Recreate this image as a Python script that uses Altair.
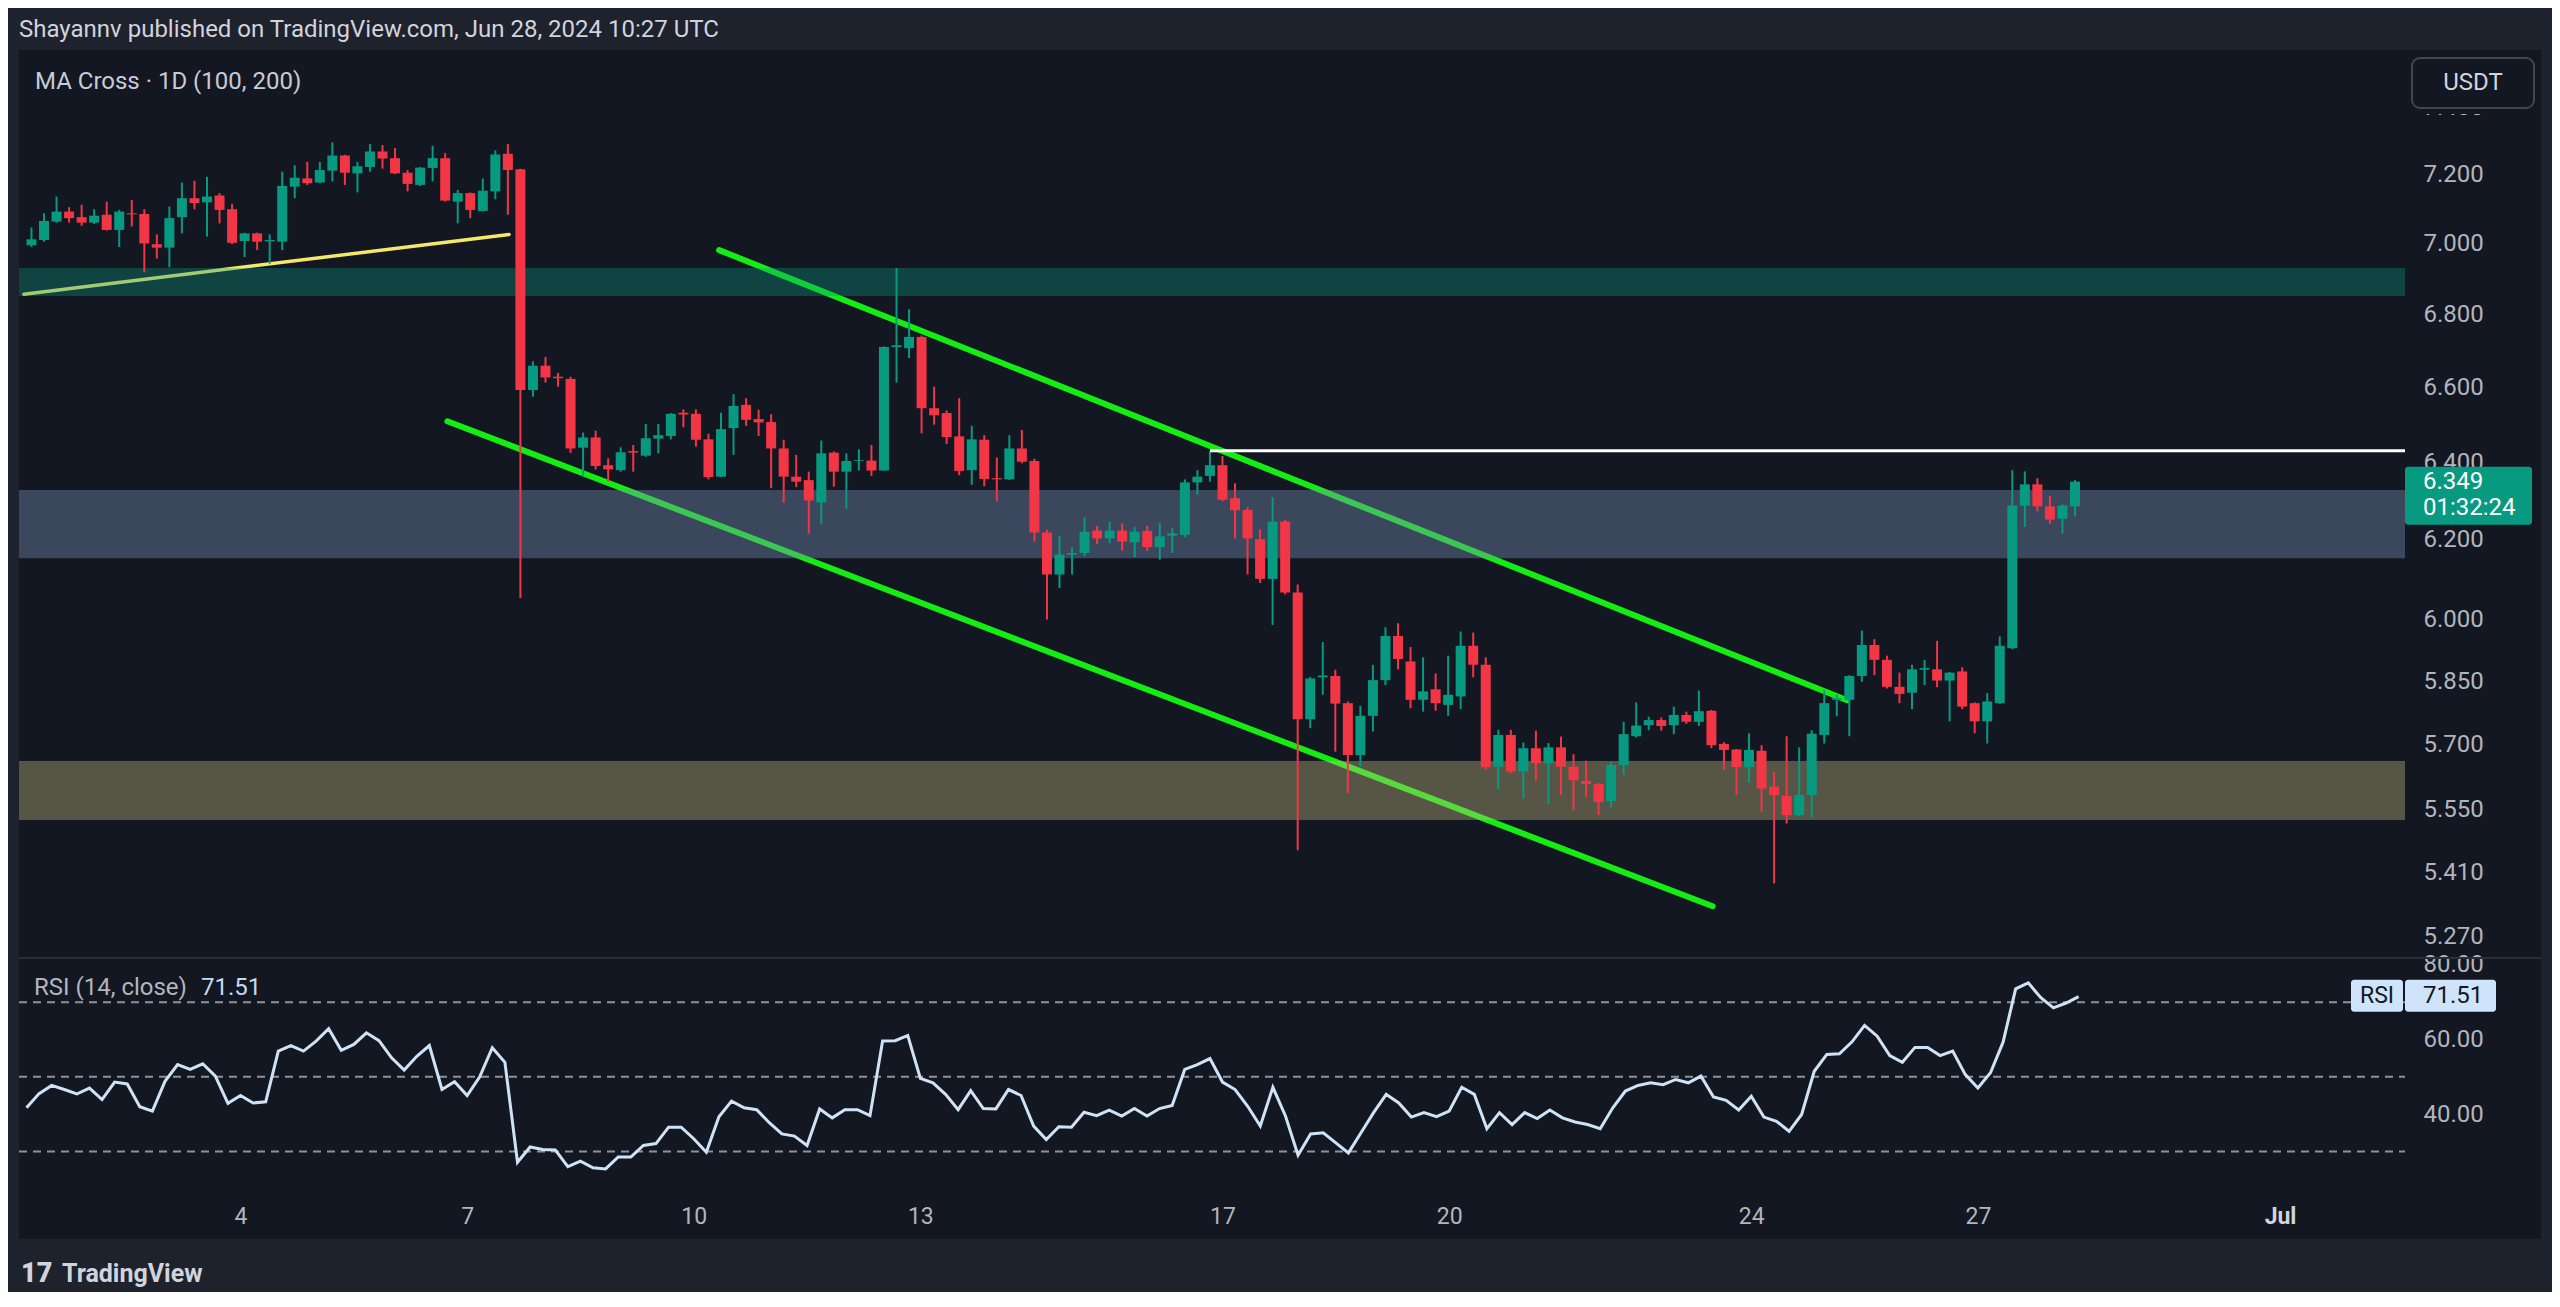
import altair as alt
import pandas as pd

# ------------------------------------------------------------------ data
opens = [6.995, 7.010, 7.063, 7.092, 7.076, 7.060, 7.083, 7.039, 7.087, 7.085,
         6.998, 6.988, 7.076, 7.131, 7.119, 7.139, 7.099, 7.007, 7.029, 7.006,
         7.005, 7.165, 7.189, 7.177, 7.212, 7.257, 7.204, 7.223, 7.269, 7.249,
         7.206, 7.170, 7.220, 7.249, 7.121, 7.146, 7.094, 7.151, 7.262, 7.216,
         6.592, 6.658, 6.628, 6.622, 6.438, 6.465, 6.392, 6.379, 6.429, 6.417,
         6.462, 6.469, 6.531, 6.528, 6.460, 6.362, 6.490, 6.552, 6.514, 6.506,
         6.436, 6.362, 6.353, 6.295, 6.425, 6.375, 6.403, 6.404, 6.378, 6.709,
         6.706, 6.737, 6.543, 6.530, 6.468, 6.379, 6.459, 6.358, 6.355, 6.436,
         6.403, 6.218, 6.112, 6.162, 6.166, 6.223, 6.203, 6.223, 6.193, 6.222,
         6.181, 6.210, 6.212, 6.347, 6.364, 6.392, 6.306, 6.276, 6.201, 6.101,
         6.246, 6.067, 5.760, 5.860, 5.863, 5.798, 5.676, 5.768, 5.853, 5.960,
         5.898, 5.806, 5.831, 5.794, 5.814, 5.936, 5.890, 5.649, 5.723, 5.638,
         5.692, 5.657, 5.694, 5.649, 5.616, 5.609, 5.570, 5.653, 5.720, 5.746,
         5.758, 5.746, 5.770, 5.754, 5.780, 5.702, 5.689, 5.648, 5.686, 5.603,
         5.582, 5.538, 5.584, 5.723, 5.806, 5.806, 5.863, 5.938, 5.902, 5.837,
         5.823, 5.878, 5.879, 5.852, 5.874, 5.798, 5.755, 5.798, 5.930, 6.287,
         6.342, 6.285, 6.253, 6.285]
highs = [7.046, 7.087, 7.136, 7.105, 7.112, 7.099, 7.121, 7.097, 7.126, 7.099,
         7.026, 7.107, 7.177, 7.182, 7.194, 7.146, 7.115, 7.031, 7.031, 7.026,
         7.209, 7.228, 7.238, 7.238, 7.296, 7.259, 7.238, 7.291, 7.288, 7.279,
         7.214, 7.223, 7.286, 7.264, 7.155, 7.148, 7.189, 7.272, 7.291, 7.218,
         6.670, 6.682, 6.638, 6.628, 6.478, 6.483, 6.410, 6.439, 6.445, 6.501,
         6.501, 6.530, 6.540, 6.540, 6.475, 6.531, 6.581, 6.570, 6.539, 6.527,
         6.459, 6.419, 6.375, 6.457, 6.428, 6.423, 6.434, 6.445, 6.711, 6.930,
         6.814, 6.741, 6.601, 6.537, 6.570, 6.496, 6.471, 6.412, 6.471, 6.485,
         6.409, 6.225, 6.209, 6.181, 6.257, 6.235, 6.246, 6.242, 6.232, 6.235,
         6.242, 6.229, 6.355, 6.379, 6.428, 6.416, 6.345, 6.283, 6.226, 6.309,
         6.250, 6.087, 5.861, 5.945, 5.878, 5.802, 5.792, 5.890, 5.981, 5.991,
         5.933, 5.908, 5.869, 5.912, 5.971, 5.968, 5.908, 5.735, 5.735, 5.705,
         5.733, 5.704, 5.719, 5.678, 5.663, 5.611, 5.661, 5.754, 5.800, 5.766,
         5.764, 5.790, 5.778, 5.828, 5.782, 5.706, 5.690, 5.727, 5.699, 5.637,
         5.720, 5.694, 5.734, 5.830, 5.818, 5.865, 5.973, 5.952, 5.912, 5.871,
         5.890, 5.902, 5.948, 5.873, 5.884, 5.800, 5.822, 5.959, 6.379, 6.376,
         6.358, 6.312, 6.290, 6.353]
lows = [6.990, 7.005, 7.060, 7.060, 7.051, 7.056, 7.037, 6.990, 7.049, 6.918,
        6.957, 6.932, 7.029, 7.099, 7.020, 7.058, 6.998, 6.961, 6.981, 6.942,
        6.981, 7.131, 7.170, 7.175, 7.180, 7.170, 7.148, 7.209, 7.218, 7.202,
        7.151, 7.167, 7.180, 7.121, 7.058, 7.073, 7.092, 7.128, 7.083, 6.053,
        6.574, 6.612, 6.601, 6.424, 6.362, 6.381, 6.349, 6.375, 6.375, 6.414,
        6.423, 6.460, 6.492, 6.441, 6.355, 6.361, 6.419, 6.496, 6.469, 6.332,
        6.295, 6.335, 6.215, 6.240, 6.336, 6.279, 6.378, 6.364, 6.378, 6.612,
        6.679, 6.476, 6.499, 6.448, 6.366, 6.341, 6.337, 6.298, 6.353, 6.397,
        6.195, 6.000, 6.078, 6.112, 6.158, 6.189, 6.191, 6.172, 6.156, 6.172,
        6.149, 6.166, 6.206, 6.315, 6.349, 6.298, 6.203, 6.112, 6.091, 5.987,
        6.062, 5.459, 5.739, 5.818, 5.684, 5.588, 5.649, 5.731, 5.841, 5.879,
        5.786, 5.778, 5.780, 5.768, 5.784, 5.860, 5.642, 5.597, 5.634, 5.576,
        5.617, 5.563, 5.584, 5.549, 5.580, 5.538, 5.555, 5.630, 5.717, 5.734,
        5.733, 5.725, 5.749, 5.744, 5.692, 5.642, 5.584, 5.612, 5.546, 5.385,
        5.519, 5.535, 5.533, 5.703, 5.767, 5.720, 5.849, 5.865, 5.833, 5.798,
        5.784, 5.841, 5.836, 5.755, 5.784, 5.727, 5.703, 5.796, 5.928, 6.232,
        6.272, 6.240, 6.215, 6.259]
closes = [7.012, 7.065, 7.092, 7.073, 7.060, 7.080, 7.039, 7.092, 7.084, 7.000,
          6.988, 7.073, 7.131, 7.117, 7.136, 7.097, 7.002, 7.029, 7.005, 7.010,
          7.167, 7.191, 7.175, 7.214, 7.257, 7.206, 7.225, 7.269, 7.248, 7.204,
          7.173, 7.221, 7.249, 7.124, 7.146, 7.097, 7.153, 7.260, 7.214, 6.592,
          6.658, 6.626, 6.624, 6.436, 6.465, 6.390, 6.381, 6.426, 6.425, 6.463,
          6.471, 6.528, 6.526, 6.459, 6.361, 6.487, 6.549, 6.512, 6.505, 6.436,
          6.362, 6.349, 6.300, 6.423, 6.375, 6.403, 6.405, 6.378, 6.709, 6.714,
          6.737, 6.543, 6.524, 6.466, 6.377, 6.460, 6.356, 6.355, 6.436, 6.401,
          6.218, 6.112, 6.162, 6.166, 6.220, 6.203, 6.223, 6.195, 6.220, 6.181,
          6.208, 6.216, 6.347, 6.362, 6.392, 6.302, 6.275, 6.203, 6.101, 6.246,
          6.067, 5.760, 5.857, 5.864, 5.797, 5.676, 5.768, 5.853, 5.960, 5.904,
          5.806, 5.826, 5.798, 5.818, 5.936, 5.890, 5.648, 5.723, 5.638, 5.692,
          5.657, 5.694, 5.649, 5.618, 5.609, 5.568, 5.653, 5.725, 5.745, 5.758,
          5.744, 5.770, 5.754, 5.779, 5.699, 5.688, 5.648, 5.688, 5.599, 5.584,
          5.538, 5.584, 5.726, 5.798, 5.810, 5.863, 5.938, 5.902, 5.837, 5.820,
          5.879, 5.882, 5.852, 5.871, 5.790, 5.755, 5.802, 5.936, 6.287, 6.342,
          6.285, 6.251, 6.287, 6.349]
rsi_values = [41.7, 45.5, 47.7, 46.6, 45.4, 47.0, 43.9, 48.6, 48.1, 42.0,
              40.8, 48.8, 53.3, 52.0, 53.5, 50.2, 42.9, 45.0, 43.0, 43.3,
              56.9, 58.4, 56.9, 59.6, 62.9, 57.1, 58.7, 61.8, 59.7, 55.1,
              51.8, 55.5, 58.4, 46.6, 48.7, 45.0, 50.0, 57.8, 53.9, 27.1,
              31.2, 30.5, 30.4, 25.9, 27.4, 25.6, 25.3, 28.5, 28.5, 31.6,
              32.1, 36.5, 36.5, 33.4, 29.8, 39.3, 43.5, 41.7, 41.2, 37.7,
              34.7, 34.1, 31.6, 41.4, 39.0, 41.2, 41.2, 39.6, 59.6, 59.7,
              61.1, 49.6, 48.4, 45.3, 41.2, 46.3, 41.5, 41.4, 46.6, 45.0,
              36.8, 33.2, 36.6, 36.5, 40.5, 39.6, 41.1, 39.5, 41.5, 39.5,
              41.5, 42.3, 52.0, 53.3, 54.9, 48.6, 46.6, 42.1, 36.8, 47.2,
              39.5, 29.0, 34.7, 35.0, 32.3, 29.6, 35.0, 40.4, 45.3, 43.0,
              39.2, 40.4, 39.3, 40.8, 47.2, 45.3, 36.1, 40.4, 37.2, 40.4,
              38.8, 41.1, 39.0, 37.9, 37.2, 36.1, 41.7, 46.2, 47.7, 48.4,
              47.9, 49.3, 48.4, 50.2, 44.6, 43.7, 41.1, 44.8, 39.2, 38.1,
              35.4, 39.9, 51.5, 56.0, 56.2, 59.4, 63.8, 60.9, 55.7, 53.9,
              57.9, 57.9, 55.7, 56.9, 50.6, 47.0, 51.1, 59.3, 73.6, 75.2,
              71.2, 68.5, 69.8, 71.51]

first_bar = "2024-06-01 04:00"   # 4h candles, UTC

zone_names = ["supply", "mid", "demand"]
zone_tops = [6.930, 6.327, 5.662]
zone_bottoms = [6.851, 6.153, 5.527]
zone_colors = ["#089981", "#7890b4", "#c8be82"]
zone_alpha = [0.35, 0.40, 0.38]

yellow_times = ["2024-06-01T01:36:00Z", "2024-06-07T12:24:00Z"]
yellow_prices = [6.856, 7.026]
upper_times = ["2024-06-10T07:24:00Z", "2024-06-25T07:18:00Z"]
upper_prices = [6.981, 5.805]
lower_times = ["2024-06-06T16:42:00Z", "2024-06-23T12:24:00Z"]
lower_prices = [6.508, 5.335]
resistance_time = ["2024-06-16T20:00:00Z"]
resistance_price = [6.430]

price_ticks = [7.4, 7.2, 7.0, 6.8, 6.6, 6.4, 6.2, 6.0, 5.85, 5.7, 5.55, 5.41, 5.27]
rsi_ticks = [80, 60, 40]
rsi_levels = [70, 50, 30]
day_ticks = [(6, 4), (6, 7), (6, 10), (6, 13), (6, 17), (6, 20), (6, 24), (6, 27), (7, 1)]

header = "Shayannv published on TradingView.com, Jun 28, 2024 10:27 UTC"
ma_label = "MA Cross \u00b7 1D (100, 200)"
rsi_label = "RSI (14, close)"
countdown = "01:32:24"

# ------------------------------------------------------------------ tables
times = pd.date_range(first_bar, periods=len(closes), freq="4h")
df = pd.DataFrame({
    "t": times.strftime("%Y-%m-%dT%H:%M:%SZ"),
    "open": opens, "high": highs, "low": lows, "close": closes,
    "rsi": rsi_values,
})

zones = pd.DataFrame({"zone": zone_names, "top": zone_tops, "bottom": zone_bottoms})
yellow_df = pd.DataFrame({"t": yellow_times, "p": yellow_prices})
green_df = pd.DataFrame({
    "t": upper_times + lower_times,
    "p": upper_prices + lower_prices,
    "line": ["upper", "upper", "lower", "lower"],
})
res_df = pd.DataFrame({"t": resistance_time, "p": resistance_price})
lvl_df = pd.DataFrame({"level": rsi_levels})
dummy = pd.DataFrame({"k": [0]})

# ------------------------------------------------------------------ style
BG = "#131722"
FRAME = "#1e222d"
UP = "#089981"
DOWN = "#f23645"
TXT = "#d1d4dc"
AX = "#b2b5be"
FONT = "Roboto"

W = 2386      # plot width
PH = 907      # price pane height
RH = 236      # rsi pane height
RIGHT = 2522  # right edge of the dark chart container
OUT = 2533

x_scale = alt.Scale(
    type="utc",
    domain=[alt.DateTime(year=2024, month=6, date=1, hours=1, minutes=37, utc=True),
            alt.DateTime(year=2024, month=7, date=2, hours=15, minutes=42, utc=True)],
)
price_scale = alt.Scale(type="log", domain=[5.2252, 7.5776], nice=False)
rsi_scale = alt.Scale(domain=[18.85, 82.14], nice=False, zero=False)

price_axis = alt.Axis(orient="right", values=price_ticks, format=".3f", labelAlign="left",
                      labelPadding=18, labelFontSize=24, labelColor=AX, labelFont=FONT,
                      ticks=False, domain=False, grid=False, title=None,
                      labelOverlap=False, labelFlush=False)
rsi_axis = alt.Axis(orient="right", values=rsi_ticks, format=".2f", labelAlign="left",
                    labelPadding=18, labelFontSize=24, labelColor=AX, labelFont=FONT,
                    ticks=False, domain=False, grid=False, title=None,
                    labelOverlap=False, labelFlush=False)
jul_test = "utcdate(datum.value) == 1"
time_axis = alt.Axis(
    values=[alt.DateTime(year=2024, month=m, date=d, utc=True) for m, d in day_ticks],
    labelExpr="utcdate(datum.value) == 1 ? 'Jul' : utcFormat(datum.value, '%-d')",
    labelFontSize=23, labelPadding=12, labelFont=FONT,
    labelColor={"condition": {"test": jul_test, "value": TXT}, "value": AX},
    labelFontWeight={"condition": {"test": jul_test, "value": "bold"}, "value": "normal"},
    ticks=False, domain=False, grid=False, title=None, labelOverlap=False, labelFlush=False,
)

xt = alt.X("t:T", scale=x_scale, axis=None)
xt_r = alt.X("t:T", scale=x_scale, axis=time_axis)


def py(field):
    return alt.Y(f"{field}:Q", scale=price_scale, axis=price_axis)


def box(x, x2, y, y2, color, **kw):
    return alt.Chart(dummy).mark_rect(color=color, **kw).encode(
        x=alt.value(x), x2=alt.value(x2), y=alt.value(y), y2=alt.value(y2))


def label(text, x, y, size, color, align="left", weight="normal"):
    return alt.Chart(dummy).mark_text(
        text=text, font=FONT, fontSize=size, color=color, align=align,
        baseline="middle", fontWeight=weight).encode(x=alt.value(x), y=alt.value(y))


candle_color = alt.condition("datum.close >= datum.open", alt.value(UP), alt.value(DOWN))

# ------------------------------------------------------------------ price pane
yellow = alt.Chart(yellow_df).mark_line(color="#f6e86a", strokeWidth=3.5, strokeCap="round", clip=True).encode(
    x=xt, y=py("p"))
green = alt.Chart(green_df).mark_line(color="#14ec14", strokeWidth=6, strokeCap="round", clip=True).encode(
    x=xt, y=py("p"), detail="line:N")
zone_layers = [
    alt.Chart(zones[zones["zone"] == name]).mark_rect(clip=True, color=col, opacity=a).encode(
        x=alt.value(0), x2=alt.value(W), y=py("top"), y2="bottom:Q")
    for name, col, a in zip(zone_names, zone_colors, zone_alpha)
]
wicks = alt.Chart(df).mark_rule(strokeWidth=2, clip=True).encode(
    x=xt, y=py("low"), y2="high:Q", color=candle_color)
bodies = alt.Chart(df).mark_bar(size=10, clip=True).encode(
    x=xt, y=py("open"), y2="close:Q", color=candle_color)
white = alt.Chart(res_df).mark_rule(color="#ffffff", strokeWidth=3).encode(
    x=xt, x2=alt.value(W), y=py("p"))

last_close = closes[-1]
tag_box = alt.Chart(dummy).mark_rect(color=UP, yOffset=-15, y2Offset=43, cornerRadius=3).encode(
    x=alt.value(W), x2=alt.value(2513),
    y=alt.Y(datum=last_close, scale=price_scale, axis=price_axis), y2=alt.datum(last_close))
tag_price = alt.Chart(dummy).mark_text(text=f"{last_close:.3f}", font=FONT, fontSize=24,
                                       color="#ffffff", align="left", baseline="middle").encode(
    x=alt.value(2404), y=alt.Y(datum=last_close, scale=price_scale, axis=price_axis))
tag_timer = alt.Chart(dummy).mark_text(text=countdown, font=FONT, fontSize=24, dy=26,
                                       color="#ffffff", align="left", baseline="middle").encode(
    x=alt.value(2404), y=alt.Y(datum=last_close, scale=price_scale, axis=price_axis))

price = alt.layer(
    yellow, green, *zone_layers, wicks, bodies, white,
    label(ma_label, 16, 32, 24, "#c8cbd3"),
    box(-11, OUT, -42, 0, FRAME),
    box(-11, 0, 0, PH, FRAME),
    box(RIGHT, OUT, 0, PH, FRAME),
    label(header, 0, -20, 24, TXT),
    box(W, RIGHT, 0, 64, BG),
    box(2393, 2515, 8, 58, BG, stroke="#434651", strokeWidth=2, cornerRadius=8),
    label("USDT", 2454, 33, 24, TXT, align="center"),
    tag_box, tag_price, tag_timer,
).properties(width=W, height=PH)

# ------------------------------------------------------------------ rsi pane
last_rsi = rsi_values[-1]
levels = alt.Chart(lvl_df).mark_rule(color="#8f929b", strokeWidth=2, strokeDash=[8, 6]).encode(
    y=alt.Y("level:Q", scale=rsi_scale, axis=rsi_axis), x=alt.value(0), x2=alt.value(W))
rsi_line = alt.Chart(df).mark_line(color="#cfe3f8", strokeWidth=3, clip=True).encode(
    x=xt_r, y=alt.Y("rsi:Q", scale=rsi_scale, axis=rsi_axis))
separator = alt.Chart(dummy).mark_rule(color="#2a2e39", strokeWidth=2).encode(
    x=alt.value(0), x2=alt.value(RIGHT), y=alt.value(1))
ry = alt.Y(datum=last_rsi, scale=rsi_scale, axis=rsi_axis)
rsi_tag1 = alt.Chart(dummy).mark_rect(color="#cfe3fa", yOffset=-17, y2Offset=15, cornerRadius=3).encode(
    x=alt.value(2332), x2=alt.value(2384), y=ry, y2=alt.datum(last_rsi))
rsi_tag2 = alt.Chart(dummy).mark_rect(color="#cfe3fa", yOffset=-17, y2Offset=15, cornerRadius=3).encode(
    x=alt.value(2386), x2=alt.value(2477), y=ry, y2=alt.datum(last_rsi))
rsi_tag_t1 = alt.Chart(dummy).mark_text(text="RSI", font=FONT, fontSize=23, color=BG,
                                        align="center", baseline="middle", dy=-1).encode(
    x=alt.value(2358), y=ry)
rsi_tag_t2 = alt.Chart(dummy).mark_text(text=f"{last_rsi:.2f}", font=FONT, fontSize=24, color=BG,
                                        align="left", baseline="middle", dy=-1).encode(
    x=alt.value(2404), y=ry)

rsi = alt.layer(
    levels, rsi_line, separator,
    rsi_tag1, rsi_tag2, rsi_tag_t1, rsi_tag_t2,
    label(rsi_label, 15, 31, 24, AX),
    label(f"{last_rsi:.2f}", 182, 31, 24, "#c3d9f2"),
    box(-11, 0, 0, 282, FRAME),
    box(RIGHT, OUT, 0, 282, FRAME),
    box(-11, OUT, 282, 335, FRAME),
    label("17", 2, 317, 27, TXT, weight=900),
    label("TradingView", 43, 317, 25, TXT, weight="bold"),
).properties(width=W, height=RH)

chart = alt.vconcat(price, rsi, spacing=0, bounds="flush").properties(
    padding=0, background=BG
).configure_view(strokeWidth=0)

chart.save("out.html", embed_options={"renderer": "svg", "actions": False})
